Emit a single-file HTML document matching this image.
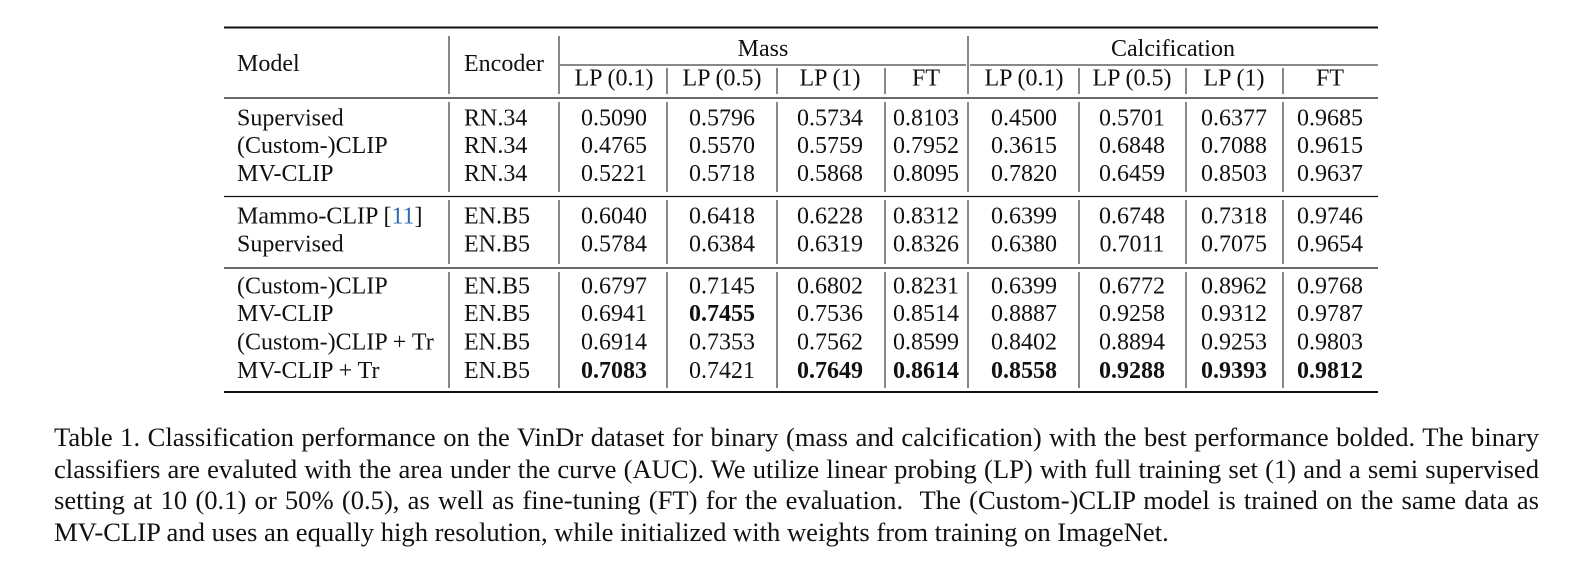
<!DOCTYPE html>
<html><head><meta charset="utf-8"><style>
body{margin:0;background:#fff;width:1596px;height:580px;overflow:hidden;font-family:"Liberation Serif",serif;}
svg{position:absolute;left:0;top:0}
#cap{position:absolute;left:54px;top:422px;width:1485px;font-size:26.6px;line-height:31.5px;color:#111;}
#cap div{text-align:justify;text-align-last:justify;white-space:nowrap;}
#cap div.last{text-align-last:left;}
</style></head><body>
<svg width="1596" height="400" id="t" font-family="Liberation Serif, serif" font-size="24" fill="#111"></svg>
<div id="cap">
<div>Table 1. Classification performance on the VinDr dataset for binary (mass and calcification) with the best performance bolded. The binary</div>
<div>classifiers are evaluted with the area under the curve (AUC). We utilize linear probing (LP) with full training set (1) and a semi supervised</div>
<div>setting at 10 (0.1) or 50% (0.5), as well as fine-tuning (FT) for the evaluation. &nbsp;The (Custom-)CLIP model is trained on the same data as</div>
<div class="last">MV-CLIP and uses an equally high resolution, while initialized with weights from training on ImageNet.</div>
</div>
<script>
const models=["Supervised","(Custom-)CLIP","MV-CLIP","Mammo-CLIP [11]","Supervised","(Custom-)CLIP","MV-CLIP","(Custom-)CLIP + Tr","MV-CLIP + Tr"];
const encoders=["RN.34","RN.34","RN.34","EN.B5","EN.B5","EN.B5","EN.B5","EN.B5","EN.B5"];
const values=[
["0.5090","0.5796","0.5734","0.8103","0.4500","0.5701","0.6377","0.9685"],
["0.4765","0.5570","0.5759","0.7952","0.3615","0.6848","0.7088","0.9615"],
["0.5221","0.5718","0.5868","0.8095","0.7820","0.6459","0.8503","0.9637"],
["0.6040","0.6418","0.6228","0.8312","0.6399","0.6748","0.7318","0.9746"],
["0.5784","0.6384","0.6319","0.8326","0.6380","0.7011","0.7075","0.9654"],
["0.6797","0.7145","0.6802","0.8231","0.6399","0.6772","0.8962","0.9768"],
["0.6941","0.7455","0.7536","0.8514","0.8887","0.9258","0.9312","0.9787"],
["0.6914","0.7353","0.7562","0.8599","0.8402","0.8894","0.9253","0.9803"],
["0.7083","0.7421","0.7649","0.8614","0.8558","0.9288","0.9393","0.9812"]];
const bold=[[6,1],[8,0],[8,2],[8,3],[8,4],[8,5],[8,6],[8,7]];
const subHeads=["LP (0.1)","LP (0.5)","LP (1)","FT","LP (0.1)","LP (0.5)","LP (1)","FT"];
const svg=document.getElementById('t');const NS="http://www.w3.org/2000/svg";
function el(tag,a,txt){const e=document.createElementNS(NS,tag);for(const k in a)e.setAttribute(k,a[k]);if(txt!==undefined)e.textContent=txt;svg.appendChild(e);return e;}
function line(x1,y1,x2,y2,w){const l=el('line',{x1,y1,x2,y2,stroke:'#111','stroke-width':w});}
const L=224,R=1378;
line(L,27.5,R,27.5,2);line(L,98,R,98,1.3);line(L,196.5,R,196.5,1.3);line(L,268,R,268,1.3);line(L,392,R,392,2);
line(560,65,966,65,1);line(970,65,R,65,1);
const divs=[449,559,667,777,885,968,1079,1186,1283];
const centers=[614,722,830,926,1024,1132,1234,1330];
[449,559,968].forEach(x=>line(x,36,x,94,1));
[667,777,885,1079,1186,1283].forEach(x=>line(x,68,x,94,1));
const blocks=[[102,192],[200,264],[272,388]];
blocks.forEach(b=>divs.forEach(x=>line(x,b[0],x,b[1],1)));
let t;
t=el('text',{x:237,y:71},"Model");
t=el('text',{x:464,y:71},"Encoder");
t=el('text',{x:763,y:56,'text-anchor':'middle'},"Mass");
t=el('text',{x:1173,y:56,'text-anchor':'middle'},"Calcification");
subHeads.forEach((s,i)=>{t=el('text',{x:centers[i],y:85.5,'text-anchor':'middle'},s);});
const rowY=[125.5,153,181,223.5,251.5,293.5,321,349.5,378];
models.forEach((m,r)=>{
 if(m.indexOf('[11]')>=0){t=el('text',{x:237,y:rowY[r]});const a=document.createElementNS(NS,'tspan');a.textContent="Mammo-CLIP [";t.appendChild(a);const b=document.createElementNS(NS,'tspan');b.setAttribute('fill','#2a6db0');b.textContent="11";t.appendChild(b);const c=document.createElementNS(NS,'tspan');c.textContent="]";t.appendChild(c);}
 else t=el('text',{x:237,y:rowY[r]},m);
 
 t=el('text',{x:464,y:rowY[r]},encoders[r]);
 values[r].forEach((v,c)=>{const isB=bold.some(p=>p[0]===r&&p[1]===c);
  t=el('text',{x:centers[c],y:rowY[r],'text-anchor':'middle','font-weight':isB?'bold':'normal'},v);
  });
});
</script>
</body></html>
